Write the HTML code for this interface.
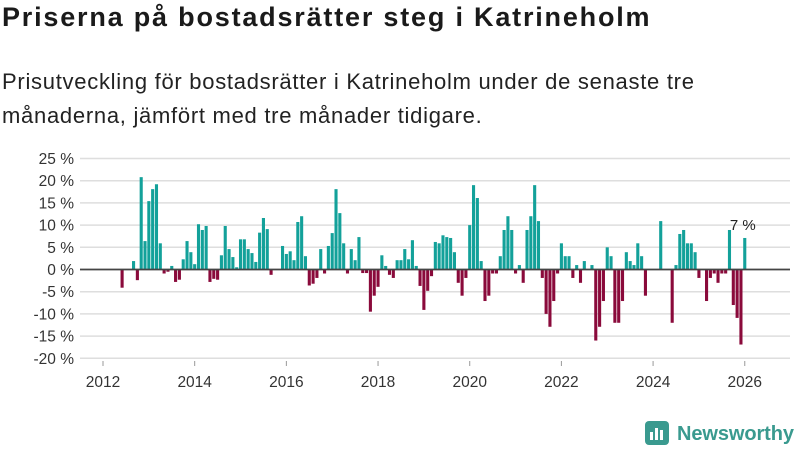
<!DOCTYPE html>
<html><head><meta charset="utf-8">
<style>
body{margin:0;width:800px;height:450px;background:#fff;font-family:"Liberation Sans",sans-serif;color:#222;overflow:hidden;position:relative}
h1{position:absolute;left:2px;top:2px;margin:0;font-size:27px;font-weight:bold;color:#1a1a1a;letter-spacing:1.8px;white-space:nowrap}
p.sub{position:absolute;left:2px;top:65px;margin:0;font-size:22px;line-height:34px;color:#222;width:760px;letter-spacing:0.72px}
svg{position:absolute;left:0;top:0}
</style></head><body>
<h1>Priserna på bostadsrätter steg i Katrineholm</h1>
<p class="sub">Prisutveckling för bostadsrätter i Katrineholm under de senaste tre<br>månaderna, jämfört med tre månader tidigare.</p>
<svg id="chart" width="800" height="450"></svg>
<script>
const startYear = 2012;
const values = [null,null,null,null,null,-4.1,null,null,1.9,-2.4,
20.8,6.4,15.4,18.1,19.2,5.9,-0.9,-0.5,0.8,-2.8,
-2.3,2.3,6.4,3.9,1.2,10.2,8.9,9.8,-2.8,-2.1,
-2.3,3.2,9.8,4.6,2.8,0.5,6.8,6.8,4.6,3.7,
1.7,8.3,11.6,9.1,-1.2,null,null,5.3,3.5,4.1,
2.1,10.7,12.0,3.0,-3.6,-3.2,-1.9,4.6,-0.9,5.3,
8.2,18.1,12.7,5.9,-0.9,4.6,2.1,7.3,-0.8,-0.8,
-9.5,-5.9,-3.9,3.2,0.8,-1.2,-1.9,2.1,2.1,4.6,
2.3,6.6,0.8,-3.7,-9.1,-4.8,-1.5,6.2,5.9,7.7,
7.3,7.1,3.9,-3.0,-5.9,-1.9,10.0,19.0,16.1,1.9,
-7.1,-5.9,-0.9,-0.9,3.0,8.9,12.0,8.9,-0.9,1.0,
-3.0,8.9,12.0,19.0,10.9,-1.9,-10.0,-12.9,-7.1,-0.9,
5.9,3.0,3.0,-1.9,1.0,-3.0,1.9,null,1.0,-16.0,
-12.9,-7.1,5.0,3.0,-12.0,-12.0,-7.1,3.9,1.9,1.0,
5.9,3.0,-5.9,null,null,null,10.9,null,null,-12.0,
1.0,8.0,8.9,5.9,5.9,3.9,-1.9,null,-7.1,-1.9,
-0.9,-3.0,-0.9,-0.9,8.9,-8.0,-10.9,-16.9,7.1];
const yTicks = [25,20,15,10,5,0,-5,-10,-15,-20];
const xTicks = [2012,2014,2016,2018,2020,2022,2024,2026];
const lastLabel = "7 %";

const NS="http://www.w3.org/2000/svg";
const svg=document.getElementById('chart');
const x0=103, monthW=3.82;
const xScale=m=>x0+m*monthW;
const yScale=v=>269.5-v*4.44;
function mk(tag,attrs){const e=document.createElementNS(NS,tag);for(const k in attrs)e.setAttribute(k,attrs[k]);svg.appendChild(e);return e;}

yTicks.forEach(t=>{
  const g=mk('line',{x1:80,x2:790,y1:yScale(t),y2:yScale(t),stroke:'#dedede','stroke-width':1.5});
  
  
  const l=mk('text',{x:74,y:yScale(t)+5.5,'text-anchor':'end','font-size':15.5,fill:'#333'});
  l.textContent=t+' %';
  
  
});
xTicks.forEach(yr=>{
  const x=xScale((yr-startYear)*12);
  const tk=mk('line',{x1:x,x2:x,y1:361,y2:366,stroke:'#999','stroke-width':1});
  
  
  const l=mk('text',{x:x,y:387,'text-anchor':'middle','font-size':15.5,fill:'#333'});
  l.textContent=yr;
  
  
});
values.forEach((v,i)=>{
  if(v===null)return;
  const cx=xScale(i), y=yScale(Math.max(v,0)), h=Math.abs(yScale(v)-yScale(0));
  const r=mk('rect',{x:cx-1.55,y:y,width:3.1,height:h,fill:v>=0?'#13a19a':'#8a0a3b'});
  
  
});
const z=mk('line',{x1:80,x2:790,y1:yScale(0),y2:yScale(0),stroke:'#444','stroke-width':1.8});


const li=values.length-1;
const lab=mk('text',{x:xScale(li)-2,y:yScale(values[li])-8,'text-anchor':'middle','font-size':15,fill:'#222'});
lab.textContent=lastLabel;


</script>
<svg width="800" height="450" style="pointer-events:none">
  <rect x="645" y="421" width="24" height="24" rx="4" fill="#3a9a8f"/>
  <rect x="650" y="432" width="3" height="8" fill="#fff"/>
  <rect x="655" y="428" width="3" height="12" fill="#fff"/>
  <rect x="660" y="430" width="3" height="10" fill="#fff"/>
  <text x="677" y="440" font-size="20" font-weight="bold" fill="#3a9a8f" font-family="Liberation Sans, sans-serif" textLength="117">Newsworthy</text>
</svg>
</body></html>
